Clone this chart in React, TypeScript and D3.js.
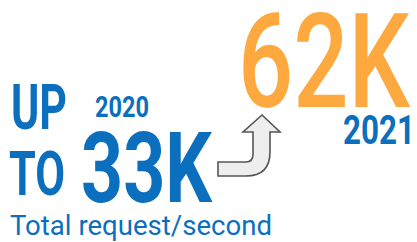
import React from "react";
import * as d3 from "d3";

const years = ["2020", "2021"];
const values = [33, 62];
const unit = "K";
const prefixWords = ["UP", "TO"];
const caption = "Total request/second";

const BLUE = "#0B6FBE";
const ORANGE = "#FDA940";
const FONT = "Roboto, 'Open Sans', sans-serif";

function arrowPath(): string {
  const p = d3.path();
  // horizontal tail -> curve -> shaft -> head
  p.moveTo(218, 162);
  p.lineTo(246, 162);
  p.quadraticCurveTo(253, 162, 253, 154);
  p.lineTo(253, 132);
  p.lineTo(243, 132);
  p.lineTo(262, 115);
  p.lineTo(280, 132);
  p.lineTo(270, 132);
  p.lineTo(270, 152);
  p.quadraticCurveTo(270, 176, 246, 176);
  p.lineTo(218, 176);
  p.closePath();
  return p.toString();
}

export default function App() {
  const fmt = (v: number) => d3.format("d")(v) + unit;
  return (
    <svg
      width={417}
      height={242}
      style={{ position: "absolute", left: 0, top: 0, background: "#fff" }}
    >
      <path d={arrowPath()} fill="#EEEEEE" stroke="#555" strokeWidth={1.6} strokeLinejoin="miter" />
      <text x={11} y={129} fontFamily={FONT} fontWeight={700} fontSize={63} fill={BLUE}
        textLength={56} lengthAdjust="spacingAndGlyphs">{prefixWords[0]}</text>
      <text x={9} y={195} fontFamily={FONT} fontWeight={700} fontSize={62} fill={BLUE}
        textLength={56} lengthAdjust="spacingAndGlyphs">{prefixWords[1]}</text>
      <text x={95} y={117} fontFamily={FONT} fontWeight={700} fontSize={29} fill={BLUE}
        textLength={54} lengthAdjust="spacingAndGlyphs">{years[0]}</text>
      <text x={81} y={202} fontFamily={FONT} fontWeight={700} fontSize={98} fill={BLUE}
        textLength={131} lengthAdjust="spacingAndGlyphs">{fmt(values[0])}</text>
      <text x={10} y={235} fontFamily={FONT} fontWeight={400} fontSize={28} fill={BLUE}
        textLength={262} lengthAdjust="spacingAndGlyphs">{caption}</text>
      <text x={238} y={107} fontFamily={FONT} fontWeight={500} fontSize={132} fill={ORANGE}
        textLength={172} lengthAdjust="spacingAndGlyphs">{fmt(values[1])}</text>
      <text x={343} y={144} fontFamily={FONT} fontWeight={700} fontSize={40} fill={BLUE}
        textLength={72} lengthAdjust="spacingAndGlyphs">{years[1]}</text>
    </svg>
  );
}
